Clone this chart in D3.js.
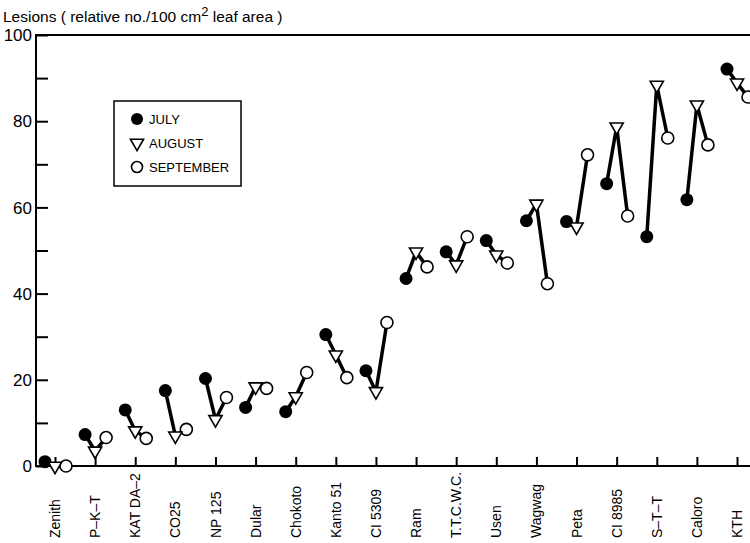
<!DOCTYPE html>
<html>
<head>
<meta charset="utf-8">
<script src="https://cdn.jsdelivr.net/npm/d3@7"></script>
<style>
    body { margin: 0; background: #fff; }
    svg { display: block; font-family: "Liberation Sans", Arial, sans-serif; }
</style>
</head>
<body>
<svg id="mainChart" width="750" height="543"></svg>
<script>
const categories = ["Zenith", "P\u2013K\u2013T", "KAT DA\u20132", "CO25", "NP 125", "Dular", "Chokoto", "Kanto 51", "CI 5309",
    "Ram", "T.T.C.W.C.", "Usen", "Wagwag", "Peta", "CI 8985", "S\u2013T\u2013T", "Caloro", "KTH"];

const july = [1, 7.3, 13, 17.5, 20.3, 13.6, 12.6, 30.5, 22.1, 43.5, 49.7, 52.3, 56.9, 56.7, 65.5, 53.2, 61.8, 92.1];
const august = [0, 3.5, 8.2, 7, 10.8, 18.4, 16.1, 25.8, 17.3, 49.7, 46.7, 49, 60.8, 55.5, 78.7, 88.4, 83.8, 88.9];
const september = [0, 6.6, 6.4, 8.5, 15.9, 18, 21.7, 20.5, 33.3, 46.2, 53.2, 47.1, 42.3, 72.2, 58, 76.1, 74.5, 85.6];

const yTicks = [0, 10, 20, 30, 40, 50, 60, 70, 80, 90, 100];
const yLabels = [0, 20, 40, 60, 80, 100];

const svg = d3.select("#mainChart");

const plotLeft = 36, plotTop = 35, plotBottom = 466, plotRight = 760;

const scaleX = d3.scalePoint().domain(categories).range([55, 737]);
const scaleY = d3.scaleLinear().domain([0, 100]).range([plotBottom, plotTop]);

// month offsets around the category position (july left, september right)
const offset = {july: -10, august: 0, september: 11};

// frame: left axis, top line, bottom axis (runs off the right edge)
svg.append("path")
    .attr("d", `M${plotRight},${plotTop}H${plotLeft}V${plotBottom}H${plotRight}`)
    .attr("fill", "none")
    .attr("stroke", "#000")
    .attr("stroke-width", 2);

// y ticks pointing inwards
const axisY = d3.axisRight(scaleY).tickValues(yTicks).tickSize(12).tickFormat("");
svg.append("g")
    .attr("transform", `translate(${plotLeft},0)`)
    .call(axisY)
    .call(g => g.select(".domain").remove())
    .call(g => g.selectAll("line").attr("stroke-width", 2));

svg.append("g")
    .selectAll("text")
    .data(yLabels)
    .join("text")
    .attr("x", 32)
    .attr("y", d => scaleY(d))
    .attr("dy", "0.36em")
    .attr("text-anchor", "end")
    .attr("font-size", 17)
    .text(d => d);

// x ticks pointing up
const axisX = d3.axisTop(scaleX).tickSize(9).tickFormat("");
svg.append("g")
    .attr("transform", `translate(0,${plotBottom})`)
    .call(axisX)
    .call(g => g.select(".domain").remove())
    .call(g => g.selectAll("line").attr("stroke-width", 2));

svg.append("g")
    .selectAll("text")
    .data(categories)
    .join("text")
    .attr("transform", d => `translate(${scaleX(d)},538) rotate(-90)`)
    .attr("dy", "0.36em")
    .attr("text-anchor", "start")
    .attr("font-size", 14)
    .text(d => d);

// title
const title = svg.append("text")
    .attr("x", 3)
    .attr("y", 22)
    .attr("font-size", 15.5);
title.append("tspan").text("Lesions ( relative no./100 cm");
title.append("tspan").attr("dy", -6).attr("font-size", 13).text("2");
title.append("tspan").attr("dy", 6).text(" leaf area )");

// connecting lines july -> august -> september
const rows = categories.map((c, i) => [
    {x: scaleX(c) + offset.july, y: scaleY(july[i])},
    {x: scaleX(c) + offset.august, y: scaleY(august[i])},
    {x: scaleX(c) + offset.september, y: scaleY(september[i])}
]);

svg.append("g")
    .selectAll("path")
    .data(rows)
    .join("path")
    .attr("d", d3.line().x(d => d.x).y(d => d.y))
    .attr("fill", "none")
    .attr("stroke", "#000")
    .attr("stroke-width", 3.5)
    .attr("stroke-linejoin", "miter");

const tri = d3.symbol().type(d3.symbolTriangle).size(75);

svg.append("g")
    .selectAll("circle")
    .data(categories)
    .join("circle")
    .attr("cx", d => scaleX(d) + offset.july)
    .attr("cy", (d, i) => scaleY(july[i]))
    .attr("r", 6.5)
    .attr("fill", "#000");

svg.append("g")
    .selectAll("circle")
    .data(categories)
    .join("circle")
    .attr("cx", d => scaleX(d) + offset.september)
    .attr("cy", (d, i) => scaleY(september[i]))
    .attr("r", 6)
    .attr("fill", "#fff")
    .attr("stroke", "#000")
    .attr("stroke-width", 1.6);

svg.append("g")
    .selectAll("path")
    .data(categories)
    .join("path")
    .attr("d", tri)
    .attr("transform", (d, i) => `translate(${scaleX(d) + offset.august},${scaleY(august[i])}) rotate(180)`)
    .attr("fill", "#fff")
    .attr("stroke", "#000")
    .attr("stroke-width", 1.6);

// legend
const legend = svg.append("g");
legend.append("rect")
    .attr("x", 114).attr("y", 101)
    .attr("width", 127).attr("height", 85)
    .attr("fill", "#fff")
    .attr("stroke", "#000")
    .attr("stroke-width", 1.5);

const legendItems = ["JULY", "AUGUST", "SEPTEMBER"];
legendItems.forEach((name, i) => {
    const y = 119 + i * 24;
    if (i === 0) {
        legend.append("circle").attr("cx", 137).attr("cy", y).attr("r", 6).attr("fill", "#000");
    } else if (i === 1) {
        legend.append("path").attr("d", tri).attr("transform", `translate(137,${y}) rotate(180)`)
            .attr("fill", "#fff").attr("stroke", "#000").attr("stroke-width", 1.6);
    } else {
        legend.append("circle").attr("cx", 137).attr("cy", y).attr("r", 5.5)
            .attr("fill", "#fff").attr("stroke", "#000").attr("stroke-width", 1.6);
    }
    legend.append("text")
        .attr("x", 149).attr("y", y)
        .attr("dy", "0.36em")
        .attr("font-size", 13)
        .text(name);
});
</script>
</body>
</html>
